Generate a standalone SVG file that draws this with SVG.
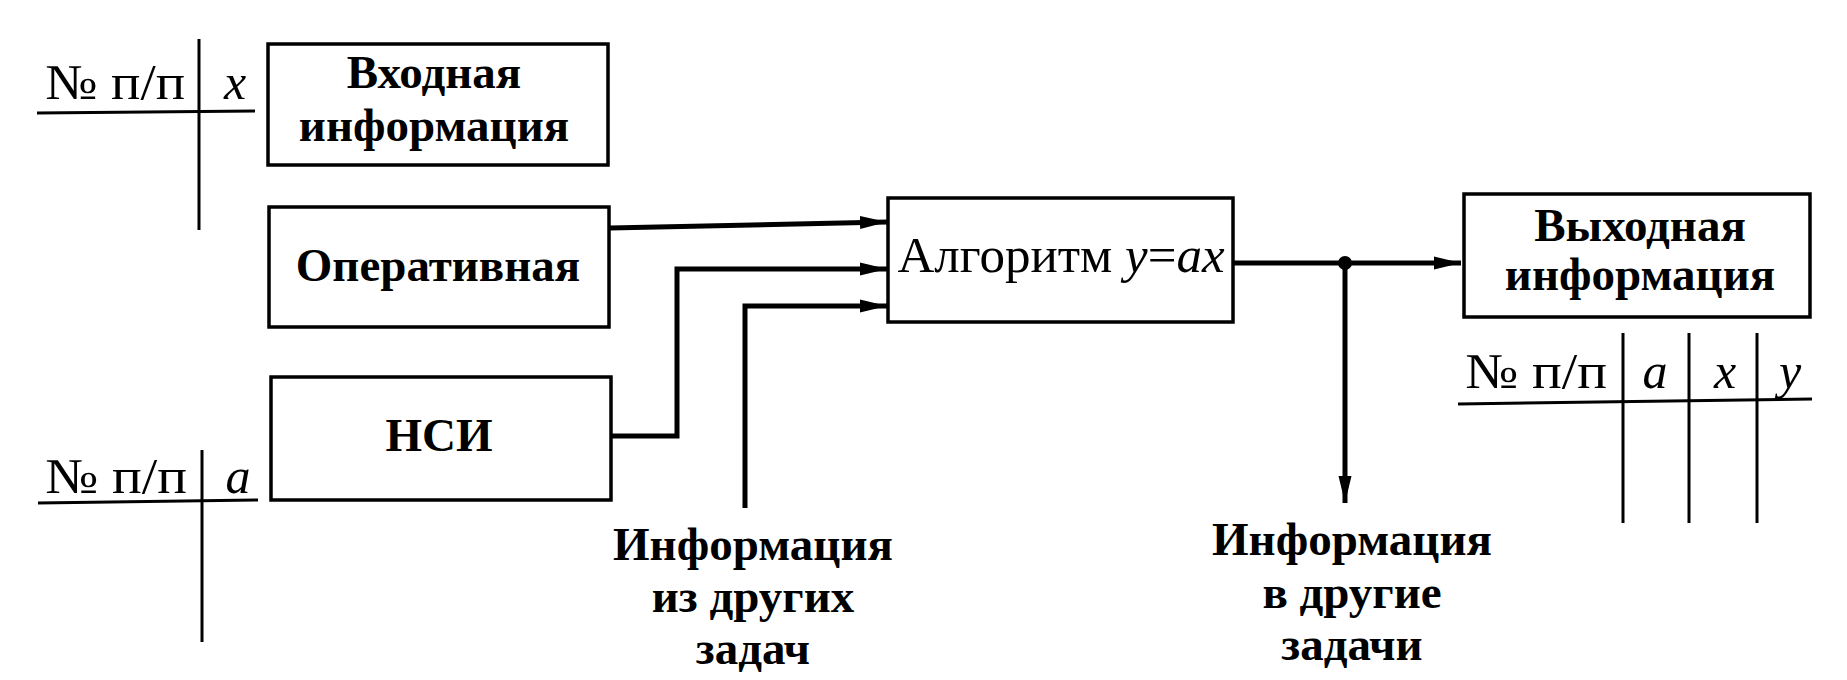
<svg xmlns="http://www.w3.org/2000/svg" width="1847" height="680" viewBox="0 0 1847 680">
<defs>
<style>
.box{fill:none;stroke:#000;stroke-width:3.5}
.tbl{fill:none;stroke:#000;stroke-width:3}
.con{fill:none;stroke:#000;stroke-width:5}
.txt{font-family:"Liberation Serif","Times New Roman",Tinos,"Nimbus Roman",FreeSerif,"Noto Serif","DejaVu Serif",serif;fill:#000}
.lbl{font-size:47px;text-anchor:middle}
.b{font-weight:bold}
.hdr{font-size:50px}
.it{font-style:italic}
</style>
<marker id="arr" markerUnits="userSpaceOnUse" markerWidth="28" markerHeight="14" refX="27" refY="7" orient="auto">
<path d="M0,0.5 L27,7 L0,13.5 z" fill="#000"/>
</marker>
</defs>
<rect width="1847" height="680" fill="#fff"/>

<g id="table-input">
<line class="tbl" x1="37" y1="113" x2="255" y2="111"/>
<line class="tbl" x1="199" y1="39" x2="199" y2="230"/>
<text class="txt hdr" x="45" y="99" textLength="140" lengthAdjust="spacingAndGlyphs">№ п/п</text>
<text class="txt hdr it" x="235" y="99" text-anchor="middle">x</text>
</g>

<g id="node-input">
<rect class="box" x="268" y="44" width="340" height="121"/>
<text class="txt lbl b" x="434" y="88">Входная</text>
<text class="txt lbl b" x="434" y="141">информация</text>
</g>

<g id="node-operative">
<rect class="box" x="269" y="207" width="340" height="120"/>
<text class="txt lbl b" x="438" y="281">Оперативная</text>
</g>

<g id="node-nsi">
<rect class="box" x="271" y="377" width="340" height="123"/>
<text class="txt lbl b" x="439" y="451">НСИ</text>
</g>

<g id="table-nsi">
<line class="tbl" x1="38" y1="503" x2="258" y2="500"/>
<line class="tbl" x1="202" y1="450" x2="202" y2="642"/>
<text class="txt hdr" x="45" y="493" textLength="142" lengthAdjust="spacingAndGlyphs">№ п/п</text>
<text class="txt hdr it" x="238" y="493" text-anchor="middle">a</text>
</g>

<g id="node-algorithm">
<rect class="box" x="888" y="198" width="345" height="124"/>
<text class="txt lbl" x="1061" y="272" style="font-size:51px">Алгоритм <tspan class="it">y</tspan>=<tspan class="it">ax</tspan></text>
</g>

<g id="node-output">
<rect class="box" x="1464" y="194" width="346" height="123"/>
<text class="txt lbl b" x="1640" y="241">Выходная</text>
<text class="txt lbl b" x="1640" y="290">информация</text>
</g>

<g id="table-output">
<line class="tbl" x1="1458" y1="404" x2="1812" y2="399"/>
<line class="tbl" x1="1623" y1="333" x2="1623" y2="523"/>
<line class="tbl" x1="1689" y1="333" x2="1689" y2="523"/>
<line class="tbl" x1="1757" y1="333" x2="1757" y2="523"/>
<text class="txt hdr" x="1465" y="388" textLength="142" lengthAdjust="spacingAndGlyphs">№ п/п</text>
<text class="txt hdr it" x="1655" y="388" text-anchor="middle">a</text>
<text class="txt hdr it" x="1725" y="388" text-anchor="middle">x</text>
<text class="txt hdr it" x="1790" y="388" text-anchor="middle">y</text>
</g>

<g id="label-from-other">
<text class="txt lbl b" x="753" y="560">Информация</text>
<text class="txt lbl b" x="753" y="612">из других</text>
<text class="txt lbl b" x="753" y="664">задач</text>
</g>

<g id="label-to-other">
<text class="txt lbl b" x="1352" y="555">Информация</text>
<text class="txt lbl b" x="1352" y="608">в другие</text>
<text class="txt lbl b" x="1352" y="660">задачи</text>
</g>

<g id="connectors">
<path class="con" d="M610,228 L887,222" marker-end="url(#arr)"/>
<path class="con" d="M612,436 H677 V269 H887" marker-end="url(#arr)"/>
<path class="con" d="M745,508 V306 H887" marker-end="url(#arr)"/>
<path class="con" d="M1233,263 H1461" marker-end="url(#arr)"/>
<path class="con" d="M1345,263 V503" marker-end="url(#arr)"/>
<circle cx="1345" cy="263" r="7" fill="#000"/>
</g>
</svg>
